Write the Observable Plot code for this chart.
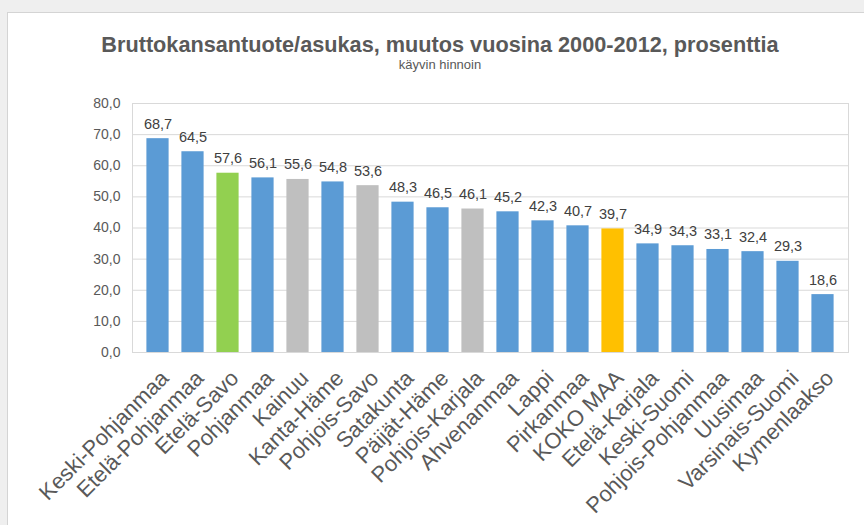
<!DOCTYPE html>
<html><head><meta charset="utf-8">
<script src="https://cdn.jsdelivr.net/npm/d3@7"></script>
<script src="https://cdn.jsdelivr.net/npm/@observablehq/plot@0.6"></script>
<style>
html,body{margin:0;padding:0;background:#efefef;width:864px;height:525px;overflow:hidden;font-family:"Liberation Sans",Arial,sans-serif;}
#box{position:absolute;left:7px;top:12px;width:900px;height:600px;background:#fff;border:1px solid #d4d4d4;}
#title{position:absolute;left:0;top:32px;width:880px;text-align:center;font-weight:bold;font-size:21.7px;color:#595959;white-space:nowrap;}
#subtitle{position:absolute;left:0;top:57px;width:880px;text-align:center;font-size:13px;color:#595959;}
#chart{position:absolute;left:0;top:0;}
</style></head><body>
<div id="box"></div>
<div id="title">Bruttokansantuote/asukas, muutos vuosina 2000-2012, prosenttia</div>
<div id="subtitle">käyvin hinnoin</div>
<div id="chart"></div>
<script>
const regions = ["Keski-Pohjanmaa","Etelä-Pohjanmaa","Etelä-Savo","Pohjanmaa","Kainuu","Kanta-Häme","Pohjois-Savo","Satakunta","Päijät-Häme","Pohjois-Karjala","Ahvenanmaa","Lappi","Pirkanmaa","KOKO MAA","Etelä-Karjala","Keski-Suomi","Pohjois-Pohjanmaa","Uusimaa","Varsinais-Suomi","Kymenlaakso"];
const values = [68.7,64.5,57.6,56.1,55.6,54.8,53.6,48.3,46.5,46.1,45.2,42.3,40.7,39.7,34.9,34.3,33.1,32.4,29.3,18.6];
const groups = ["muu","muu","Etelä-Savo","muu","Itä-Suomi","muu","Itä-Suomi","muu","muu","Itä-Suomi","muu","muu","muu","KOKO MAA","muu","muu","muu","muu","muu","muu"];
const groupNames = ["muu","Etelä-Savo","Itä-Suomi","KOKO MAA"];
const groupColors = ["#5b9bd5","#92d050","#bfbfbf","#ffc000"];
const yTicks = [0,10,20,30,40,50,60,70,80];

const data = regions.map((r,i)=>({region:r,value:values[i],group:groups[i]}));
const fmt = v => v.toFixed(1).replace(".", ",");
const plot = Plot.plot({
  width:864,height:525,marginTop:103,marginBottom:173,marginLeft:132,marginRight:16,
  style:{background:"transparent",fontFamily:"'Liberation Sans', Arial, sans-serif",color:"#595959"},
  x:{domain:regions,padding:0,label:null},
  y:{domain:[0,80],label:null},
  color:{domain:groupNames,range:groupColors},
  marks:[
    Plot.ruleY(yTicks,{stroke:"#d9d9d9",strokeWidth:1}),
    Plot.frame({stroke:"#d9d9d9"}),
    Plot.barY(data,{x:"region",y:"value",fill:"group",insetLeft:6.4,insetRight:6.4}),
    Plot.text(data,{x:"region",y:"value",text:d=>fmt(d.value),dy:-10,lineAnchor:"bottom",fontSize:14.5,fill:"#404040"}),
    Plot.axisY({ticks:yTicks,tickFormat:fmt,tickSize:0,tickPadding:12,fontSize:14,label:null,color:"#595959"}),
    Plot.axisX({tickSize:0,tickRotate:-45,textAnchor:"end",lineAnchor:"middle",fontSize:22,dx:7,dy:22,tickPadding:0,label:null,color:"#595959"})
  ]
});
document.getElementById("chart").append(plot);
</script>
</body></html>
